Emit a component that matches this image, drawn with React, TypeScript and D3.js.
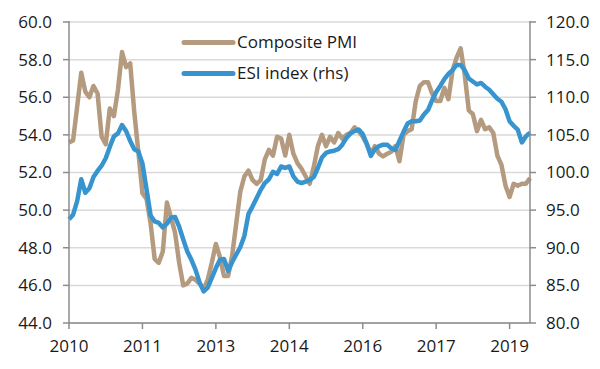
import React from 'react'
import * as d3 from 'd3'

// monthly, Jan 2010 .. Jun 2019
const startYear = 2010
const pmi = [
  53.6, 53.7, 55.5, 57.3, 56.3, 56.0, 56.6, 56.2, 53.9, 53.5, 55.4, 55.0,
  56.4, 58.4, 57.6, 57.8, 55.2, 53.1, 50.9, 50.6, 49.3, 47.4, 47.2, 47.8,
  50.4, 49.6, 48.8, 47.2, 46.0, 46.1, 46.4, 46.3, 46.1, 45.8, 46.3, 47.2,
  48.2, 47.5, 46.5, 46.5, 47.6, 49.3, 51.0, 51.8, 52.1, 51.6, 51.4, 51.6,
  52.7, 53.2, 52.9, 53.9, 53.8, 52.9, 54.0, 53.0, 52.5, 52.2, 51.8, 51.4,
  52.3, 53.4, 54.0, 53.4, 53.9, 53.6, 54.1, 53.8, 54.0, 54.1, 54.4, 54.2,
  53.9, 53.5, 53.0, 53.4, 53.0, 52.85, 53.0, 53.1, 53.4, 52.6, 54.0, 54.2,
  54.3, 55.8, 56.6, 56.8, 56.8, 56.2, 55.8, 55.8, 56.5, 55.9, 57.4, 58.1,
  58.6, 57.2, 55.3, 55.1, 54.2, 54.8, 54.3, 54.4, 54.1, 52.9, 52.4, 51.3,
  50.7, 51.4, 51.3, 51.4, 51.4, 51.7,
]
const esi = [
  93.8, 94.4, 96.2, 99.1, 97.3, 97.9, 99.4, 100.2, 100.9, 101.9, 103.4, 104.8,
  105.2, 106.3, 105.5, 104.2, 103.1, 102.8, 101.2, 97.8, 94.3, 93.5, 93.3, 92.7,
  93.2, 94.0, 94.1, 92.8, 91.1, 89.5, 88.4, 87.1, 85.4, 84.2, 84.7, 86.0,
  87.3, 88.4, 88.5, 86.9, 88.1, 89.1, 90.1, 91.6, 94.5, 95.5, 96.6, 97.7,
  98.6, 99.1, 100.1, 99.8, 100.8, 100.6, 100.8, 99.5, 98.8, 98.6, 98.8, 99.0,
  99.4, 100.6, 102.0, 102.6, 102.8, 102.9, 103.1, 103.7, 104.6, 105.2, 105.5, 105.7,
  105.1, 103.8, 102.2, 103.1, 103.5, 103.7, 103.7, 103.2, 103.0, 104.2, 105.4, 106.5,
  106.8, 106.8, 106.9, 107.7, 108.3, 109.6, 110.7, 111.5, 112.4, 113.1, 113.6, 114.3,
  114.3, 113.6, 112.5, 112.1, 111.7, 111.9, 111.4, 111.0, 110.4, 109.8, 109.4, 108.4,
  106.8, 106.2, 105.7, 104.0, 104.8, 105.3,
]
// category axis, a tick every 18 months
const xTickMonths = [0, 18, 36, 54, 72, 90, 108]
const leftTicks = [44, 46, 48, 50, 52, 54, 56, 58, 60]
const rightTicks = [80, 85, 90, 95, 100, 105, 110, 115, 120]
const legendItems = ['Composite PMI', 'ESI index (rhs)']

const W = 600
const H = 369
const left = 69
const right = 530
const top = 22
const bottom = 323
const font = '"Open Sans", "Noto Sans", sans-serif'
const textColor = '#1a1a1a'
const pmiColor = '#b49a7e'
const esiColor = '#3794cf'

export default function App() {
  const x = d3.scaleLinear().domain([0, pmi.length - 1]).range([left, right])
  const yL = d3.scaleLinear().domain([44, 60]).range([bottom, top])
  const yR = d3.scaleLinear().domain([80, 120]).range([bottom, top])

  const pmiLine = d3.line<number>().x((_, i) => x(i)).y(d => yL(d))
  const esiLine = d3.line<number>().x((_, i) => x(i)).y(d => yR(d))

  return (
    <svg width={W} height={H} style={{ position: 'absolute', left: 0, top: 0, background: '#fff' }}
      fontFamily={font}>
      {/* gridlines */}
      {leftTicks.map(t => (
        <line key={'g' + t} x1={left} x2={right} y1={yL(t)} y2={yL(t)} stroke="#d9d9d9" strokeWidth={1.5} />
      ))}

      {/* lines */}
      <path d={pmiLine(pmi) || ''} fill="none" stroke={pmiColor} strokeWidth={4.5} strokeLinejoin="round" />
      <path d={esiLine(esi) || ''} fill="none" stroke={esiColor} strokeWidth={4.5} strokeLinejoin="round" />

      {/* axes */}
      <g stroke="#8c8c8c" strokeWidth={1.5}>
        <line x1={left} x2={left} y1={top - 1} y2={bottom} />
        <line x1={right} x2={right} y1={top - 1} y2={bottom} />
        <line x1={left} x2={right} y1={bottom} y2={bottom} />
        {leftTicks.map(t => <line key={'lt' + t} x1={left - 6} x2={left} y1={yL(t)} y2={yL(t)} />)}
        {rightTicks.map(t => <line key={'rt' + t} x1={right} x2={right + 6} y1={yR(t)} y2={yR(t)} />)}
        {xTickMonths.map(m => <line key={'xt' + m} x1={x(m)} x2={x(m)} y1={bottom} y2={bottom + 6} />)}
      </g>

      {leftTicks.map(t => (
        <text key={'ll' + t} x={left - 17} y={yL(t)} dy="0.35em" textAnchor="end" fontSize={17} fill={textColor}>
          {t.toFixed(1)}
        </text>
      ))}
      {rightTicks.map(t => (
        <text key={'rl' + t} x={right + 16} y={yR(t)} dy="0.35em" textAnchor="start" fontSize={17} fill={textColor}>
          {t.toFixed(1)}
        </text>
      ))}
      {xTickMonths.map(m => (
        <text key={'xl' + m} x={x(m)} y={bottom + 29} textAnchor="middle" fontSize={17} fill={textColor}>
          {startYear + Math.floor(m / 12)}
        </text>
      ))}

      {/* legend */}
      {legendItems.map((name, i) => (
        <g key={name} transform={`translate(184, ${42.5 + i * 31})`}>
          <line x1={0} x2={49} y1={0} y2={0} stroke={i === 0 ? pmiColor : esiColor} strokeWidth={5} strokeLinecap="round" />
          <text x={53} y={0} dy="0.35em" fontSize={17} fill={textColor}>{name}</text>
        </g>
      ))}
    </svg>
  )
}
